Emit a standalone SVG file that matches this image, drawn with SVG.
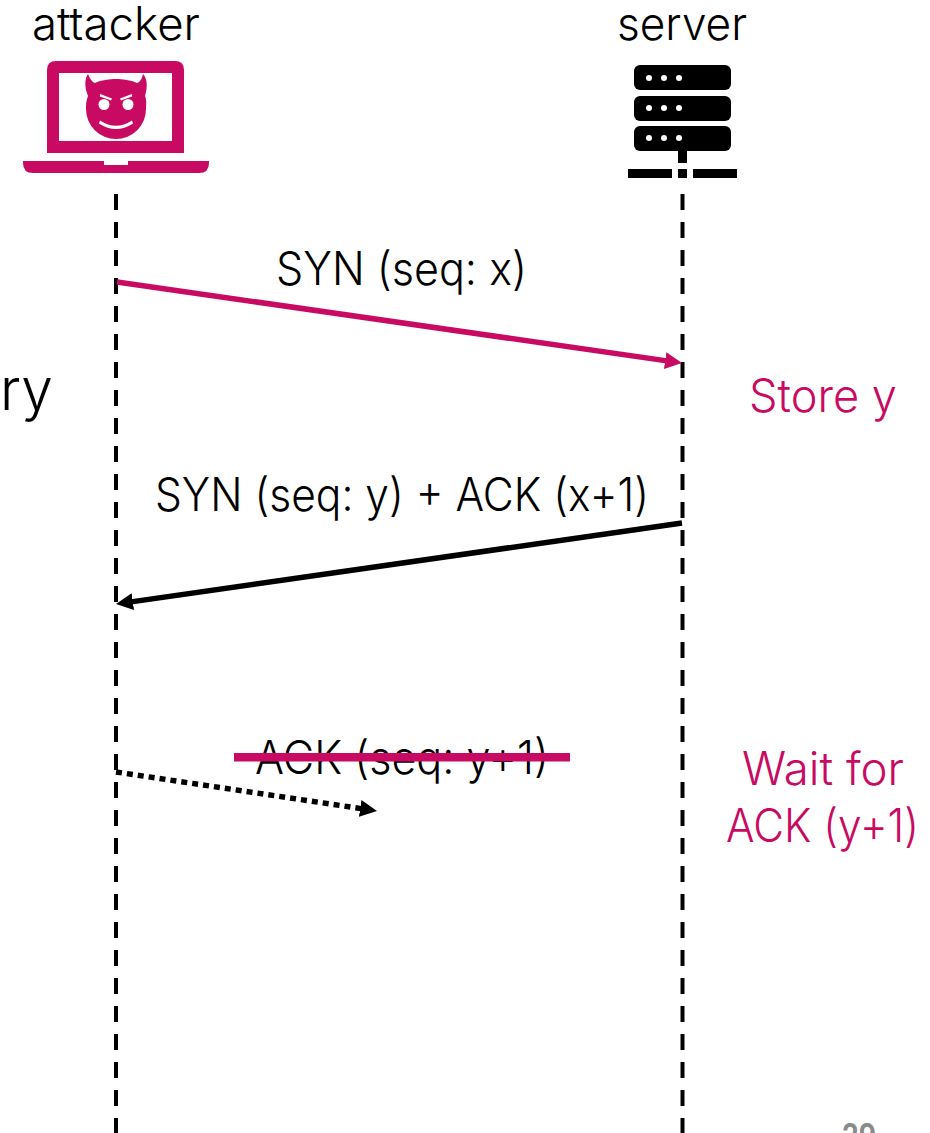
<svg xmlns="http://www.w3.org/2000/svg" width="930" height="1133" viewBox="0 0 930 1133">
<style>
text{font-family:"Inter","Lato","Liberation Sans",sans-serif;font-weight:300;font-size:46px;fill:#000}
.m{fill:#c90a62}
.life{stroke:#000;stroke-width:4;stroke-dasharray:16 12;fill:none}
.pk{fill:#c90a62}
</style>
<defs>
<marker id="ap" markerUnits="userSpaceOnUse" markerWidth="18" markerHeight="18" refX="7" refY="8.500" orient="auto"><path d="M0 0L17 8.500L0 17Z" fill="#c90a62"/></marker>
<marker id="ak" markerUnits="userSpaceOnUse" markerWidth="18" markerHeight="18" refX="7" refY="8.500" orient="auto"><path d="M0 0L17 8.500L0 17Z" fill="#000"/></marker>
</defs>
<rect width="930" height="1133" fill="#fff"/>
<g id="connectors" fill="none">
<path class="life" d="M116 194V1133"/>
<path class="life" d="M682.500 194V1133"/>
<path d="M117 282L672.100 361.600" stroke="#c90a62" stroke-width="5.500" marker-end="url(#ap)"/>
<path d="M682 523L125.900 602.600" stroke="#000" stroke-width="5.500" marker-end="url(#ak)"/>
<path d="M116 772L367.100 809.500" stroke="#000" stroke-width="5.500" stroke-dasharray="6 5" marker-end="url(#ak)"/>
</g>
<g id="attacker">
<text x="32" y="40" textLength="168" lengthAdjust="spacingAndGlyphs">attacker</text>
<path class="pk" fill-rule="evenodd" d="M56 61H175Q184 61 184 70V153H47V70Q47 61 56 61ZM59 73V141H172V73Z"/>
<path class="pk" d="M23 161H104V165H128V161H209V163Q209 173 199 173H33Q23 173 23 163Z"/>
<path class="pk" d="M88 74C90 79 92 82 95 83C101 80 110 79 116 79C122 79 131 80 137 83C140 82 142 79 143 74C147 78 148 86 145 96C147 101 146 104 146 109A30 30 0 0 1 86 109C86 104 86 101 88 96C84 86 85 78 88 74Z"/>
<g fill="#fff">
<circle cx="104" cy="104.500" r="5.500"/><circle cx="128" cy="104.500" r="5.500"/>
<path d="M100 120.500Q116 131 132 120.500L133 123.500Q116 134.500 99 123.500Z"/>
<path d="M100 94L112 98.500L111 100.500L100 96.500Z"/><path d="M132 94L120 98.500L121 100.500L132 96.500Z"/>
</g>
</g>
<g id="server">
<text x="617" y="40" textLength="130" lengthAdjust="spacingAndGlyphs">server</text>
<g fill="#000"><rect x="634" y="65" width="97" height="25" rx="6"/><rect x="634" y="96" width="97" height="25" rx="6"/><rect x="634" y="126" width="97" height="25" rx="6"/>
<rect x="678" y="151" width="9" height="12"/><rect x="628" y="169" width="44" height="9"/><rect x="678" y="169" width="9" height="9"/><rect x="693" y="169" width="44" height="9"/></g>
<g fill="#fff"><circle cx="649" cy="78" r="3"/><circle cx="664" cy="78" r="3"/><circle cx="679" cy="78" r="3"/><circle cx="649" cy="108" r="3"/><circle cx="664" cy="108" r="3"/><circle cx="679" cy="108" r="3"/><circle cx="649" cy="138" r="3"/><circle cx="664" cy="138" r="3"/><circle cx="679" cy="138" r="3"/></g>
</g>
<g id="labels">
<text x="276" y="285" textLength="251" lengthAdjust="spacingAndGlyphs">SYN (seq: x)</text>
<text x="155" y="511" textLength="494" lengthAdjust="spacingAndGlyphs">SYN (seq: y) + ACK (x+1)</text>
<text x="255" y="774" textLength="294" lengthAdjust="spacingAndGlyphs">ACK (seq: y+1)</text>
<rect x="234" y="753" width="336" height="8.500" fill="#c90a62"/>
<text class="m" x="749" y="412" textLength="148" lengthAdjust="spacingAndGlyphs">Store y</text>
<text class="m" x="742" y="785" textLength="162" lengthAdjust="spacingAndGlyphs">Wait for</text>
<text class="m" x="726" y="842" textLength="193" lengthAdjust="spacingAndGlyphs">ACK (y+1)</text>
<text x="0" y="410" style="font-size:58px" textLength="53" lengthAdjust="spacingAndGlyphs">ry</text>
<text x="842" y="1147" style="font-size:32px;font-weight:700;fill:#8a8a8a" textLength="34" lengthAdjust="spacingAndGlyphs">29</text>
</g>
</svg>
